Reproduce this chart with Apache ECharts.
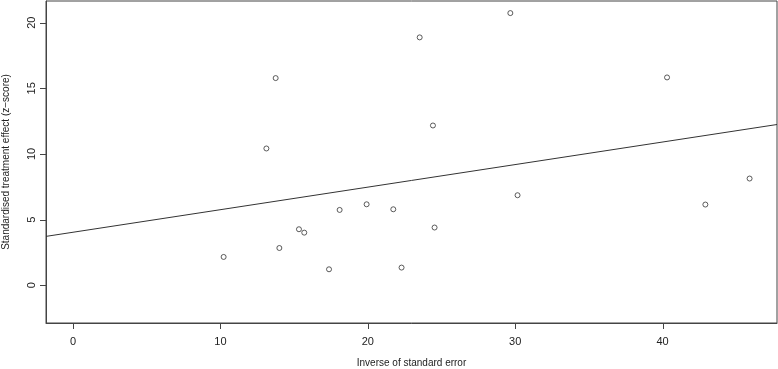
<!DOCTYPE html>
<html>
<head>
<meta charset="utf-8">
<script src="https://cdn.jsdelivr.net/npm/echarts@6/dist/echarts.min.js"></script>
<style>
html, body { margin: 0; padding: 0; background: #fff; }
#chart { width: 778px; height: 369px; }
</style>
</head>
<body>
<div id="chart"></div>
<script>
// inverse of standard error (x) and z-score (y) per study
var precision = [10.22, 13.12, 13.75, 14.0, 15.33, 15.69, 17.37, 18.09, 19.92, 21.73, 22.29, 23.52, 24.42, 24.53, 29.67, 30.16, 40.3, 42.9, 45.9];
var zScore = [2.16, 10.42, 15.78, 2.84, 4.27, 4.01, 1.22, 5.74, 6.17, 5.79, 1.35, 18.88, 12.17, 4.40, 20.73, 6.86, 15.83, 6.15, 8.13];
var xTicks = [0, 10, 20, 30, 40];
var yTicks = [0, 5, 10, 15, 20];
// regression line through the points
var intercept = 4.04;
var slope = 0.1718;

var xMin = -1.83, xMax = 47.76;
var yMin = -2.87, yMax = 21.65;

var points = precision.map(function (v, i) { return [v, zScore[i]]; });
var fitLine = [[xMin, intercept + slope * xMin], [xMax, intercept + slope * xMax]];

var textColor = '#222';
var lineColor = '#444';
var font = 'Liberation Sans, Arial, sans-serif';
var tickLen = 6;

var chart = echarts.init(document.getElementById('chart'));
chart.setOption({
	animation: false,
	grid: {
		left: 46, right: 1, top: 1, bottom: 46,
		outerBoundsMode: 'none', containLabel: false,
		show: true, borderColor: lineColor, borderWidth: 1, backgroundColor: 'transparent'
	},
	xAxis: {
		type: 'value', min: xMin, max: xMax, position: 'bottom',
		name: 'Inverse of standard error',
		nameLocation: 'middle', nameGap: 35,
		nameTextStyle: { color: textColor, fontSize: 10, fontFamily: font },
		axisLine: { show: true, onZero: false, lineStyle: { color: lineColor } },
		splitLine: { show: false },
		axisTick: { show: false },
		axisLabel: { customValues: xTicks, margin: 13, color: textColor, fontSize: 11, fontFamily: font }
	},
	yAxis: {
		type: 'value', min: yMin, max: yMax, position: 'left',
		name: 'Standardised treatment effect (z\u2212score)',
		nameLocation: 'middle', nameGap: 35, nameRotate: 90,
		nameTextStyle: { color: textColor, fontSize: 10, fontFamily: font },
		axisLine: { show: true, onZero: false, lineStyle: { color: lineColor } },
		splitLine: { show: false },
		axisTick: { show: false },
		axisLabel: { customValues: yTicks, rotate: 90, margin: 9, color: textColor, fontSize: 11, fontFamily: font }
	},
	series: [
		{
			type: 'line', data: fitLine, symbol: 'none', silent: true,
			lineStyle: { color: '#333', width: 1 }
		},
		{
			type: 'scatter', data: points, symbol: 'circle', symbolSize: 5,
			itemStyle: { color: 'transparent', borderColor: '#333', borderWidth: 1 }
		}
	]
});

// tick marks outside the box, placed through the axis scales
var ticks = [];
xTicks.forEach(function (v) {
	var p = chart.convertToPixel({ gridIndex: 0 }, [v, yMin]);
	var x = Math.round(p[0]) + 0.5;
	ticks.push({ type: 'line', silent: true, shape: { x1: x, y1: p[1], x2: x, y2: p[1] + tickLen }, style: { stroke: lineColor, lineWidth: 1 } });
});
yTicks.forEach(function (v) {
	var p = chart.convertToPixel({ gridIndex: 0 }, [xMin, v]);
	var y = Math.round(p[1]) + 0.5;
	ticks.push({ type: 'line', silent: true, shape: { x1: p[0] - tickLen, y1: y, x2: p[0], y2: y }, style: { stroke: lineColor, lineWidth: 1 } });
});
chart.setOption({ graphic: ticks });
</script>
</body>
</html>
